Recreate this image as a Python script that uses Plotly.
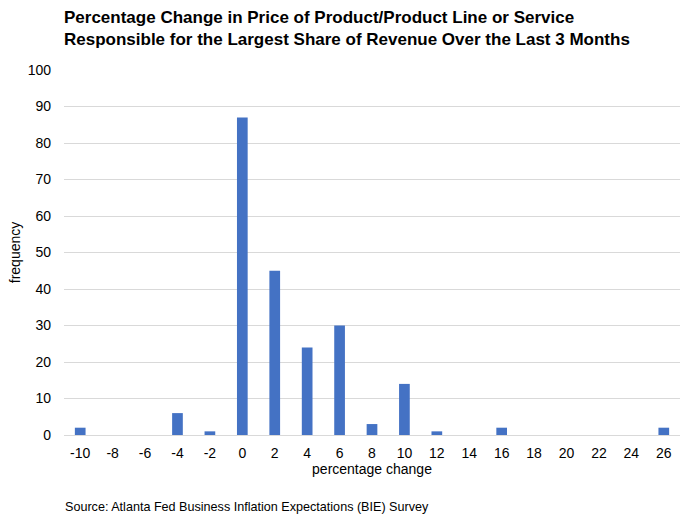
import plotly.graph_objects as go

categories = ["-10", "-8", "-6", "-4", "-2", "0", "2", "4", "6", "8", "10", "12", "14", "16", "18", "20", "22", "24", "26"]
frequency = [2, 0, 0, 6, 1, 87, 45, 24, 30, 3, 14, 1, 0, 2, 0, 0, 0, 0, 2]
y_ticks = [0, 10, 20, 30, 40, 50, 60, 70, 80, 90, 100]

FONT = "Liberation Sans, Arial, sans-serif"
PLOT_TOP, PLOT_H = 70, 365

fig = go.Figure(go.Bar(x=categories, y=frequency, marker_color="#4472C4", marker_line_width=0))

fig.update_layout(
    width=688, height=523,
    margin=dict(l=64, r=8, t=PLOT_TOP, b=523 - PLOT_TOP - PLOT_H),
    plot_bgcolor="white", paper_bgcolor="white",
    bargap=0.67,
    showlegend=False,
    font=dict(family=FONT, size=14, color="#000000"),
    xaxis=dict(
        type="category", showgrid=False, showline=True, linecolor="#D9D9D9", linewidth=1,
        ticks="", tickfont=dict(size=14), ticklabelstandoff=5, automargin=False,
        title=dict(text="percentage change", font=dict(size=14), standoff=2),
    ),
    yaxis=dict(
        range=[0, 100], tickvals=y_ticks, showgrid=True, gridcolor="#D9D9D9", gridwidth=1,
        zeroline=False, ticks="", tickfont=dict(size=14), ticklabelstandoff=12, automargin=False,
        title=dict(text="frequency", font=dict(size=14), standoff=3),
    ),
    annotations=[
        dict(
            text="<b>Percentage Change in Price of Product/Product Line or Service<br>Responsible for the Largest Share of Revenue Over the Last 3 Months</b>",
            xref="paper", yref="paper", x=0, xanchor="left", align="left", xshift=-2,
            y=1 + (PLOT_TOP - 29) / PLOT_H, yanchor="middle",
            showarrow=False, font=dict(family=FONT, size=17, color="#000000"),
        ),
        dict(
            text="Source: Atlanta Fed Business Inflation Expectations (BIE) Survey",
            xref="paper", yref="paper", x=0, xanchor="left", y=-(507 - 435) / PLOT_H, yanchor="middle",
            xshift=-1, showarrow=False, font=dict(family=FONT, size=12.6, color="#000000"),
        ),
    ],
)

fig.write_html("out.html")
